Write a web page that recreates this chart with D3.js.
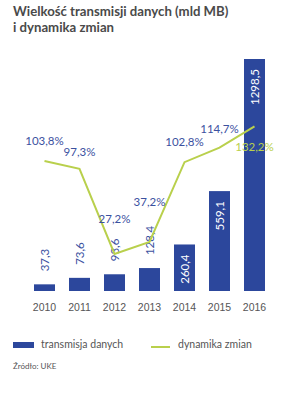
<!DOCTYPE html>
<html>
<head>
<meta charset="utf-8">
<script src="https://cdn.jsdelivr.net/npm/d3@7"></script>
<style>
  body { margin: 0; background: #fff; }
  svg { display: block; font-family: Lato, 'Open Sans', sans-serif; }
  .title { font-weight: 700; fill: #4a4a4a; font-size: 13.2px; }
  .axis text { fill: #555; font-size: 10.5px; }
  .legend text { fill: #555; font-size: 10.5px; }
  .source { fill: #555; font-size: 8px; }
</style>
</head>
<body>
<svg width="281" height="394"></svg>
<script>
const years = ['2010', '2011', '2012', '2013', '2014', '2015', '2016']
const transfer = [37.3, 73.6, 93.6, 128.4, 260.4, 559.1, 1298.5]
const dynamics = [103.8, 97.3, 27.2, 37.2, 102.8, 114.7, 132.2]
const seriesNames = ['transmisja danych', 'dynamika zmian']
const titleLines = ['Wielkość transmisji danych (mld MB)', 'i dynamika zmian']

// label placement (px offsets from the line point, negative = above)
const pctOffset = [-16, -13, -31, -36, -16, -15, 25]

const blue = '#2c479c'
const green = '#b9d04c'
const textBlue = '#3b519f'
const fmt = v => d3.format('.1f')(v).replace('.', ',')

const svg = d3.select('svg')

// Title
svg.selectAll('.title')
  .data(titleLines)
  .join('text')
  .classed('title', true)
  .attr('x', 13)
  .attr('y', (d, i) => 16 + i * 15.5)
  .text(d => d)

const xScale = d3.scaleBand(years, [27, 272])
  .paddingInner(0.4)
  .paddingOuter(0.2)
const cx = d => xScale(d) + xScale.bandwidth() / 2

const yScale = d3.scaleLinear([0, 1298.5], [291, 59])
const pScale = d3.scaleLinear([0, 140], [287, 117])

const rows = years.map((y, i) => ({ year: y, value: transfer[i], pct: dynamics[i], off: pctOffset[i] }))

// Bars
svg.append('g')
  .selectAll('rect')
  .data(rows)
  .join('rect')
  .attr('x', d => xScale(d.year))
  .attr('y', d => yScale(d.value))
  .attr('width', xScale.bandwidth())
  .attr('height', d => yScale(0) - yScale(d.value))
  .attr('fill', blue)

// Bar value labels (rotated)
const inside = d => yScale(0) - yScale(d.value) > 40
svg.append('g')
  .selectAll('text')
  .data(rows)
  .join('text')
  .attr('transform', d => {
    const y = inside(d) ? yScale(d.value) + 10 : yScale(d.value) - 13
    return `translate(${ cx(d.year) + 4 },${ y }) rotate(-90)`
  })
  .attr('text-anchor', d => inside(d) ? 'end' : 'start')
  .attr('fill', d => inside(d) ? '#fff' : textBlue)
  .style('font-size', '11.5px')
  .text(d => fmt(d.value))

// Line
const line = d3.line()
  .x(d => cx(d.year))
  .y(d => pScale(d.pct))
svg.append('path')
  .datum(rows)
  .attr('d', line)
  .attr('fill', 'none')
  .attr('stroke', green)
  .attr('stroke-width', 2)

svg.append('g')
  .selectAll('text')
  .data(rows)
  .join('text')
  .attr('x', d => cx(d.year))
  .attr('y', d => pScale(d.pct) + d.off)
  .attr('text-anchor', 'middle')
  .attr('fill', (d, i) => i === rows.length - 1 ? green : textBlue)
  .style('font-size', '11.5px')
  .text(d => fmt(d.pct) + '%')

// X axis
const xAxis = d3.axisBottom(xScale).tickSize(0).tickPadding(0)
const xAxisEl = svg.append('g')
  .classed('axis', true)
  .attr('transform', 'translate(0,304)')
  .call(xAxis)
xAxisEl.select('.domain').remove()
xAxisEl.selectAll('text').attr('dy', '0.71em').attr('font-family', null)

// Legend
const legend = svg.append('g').classed('legend', true)
legend.append('rect')
  .attr('x', 13).attr('y', 342).attr('width', 21).attr('height', 6)
  .attr('fill', blue)
legend.append('text').attr('x', 41).attr('y', 348).text(seriesNames[0])
legend.append('line')
  .attr('x1', 151).attr('x2', 170).attr('y1', 347).attr('y2', 347)
  .attr('stroke', green).attr('stroke-width', 2)
legend.append('text').attr('x', 178).attr('y', 348).text(seriesNames[1])

svg.append('text').classed('source', true)
  .attr('x', 13).attr('y', 369)
  .text('Źródło: UKE')
</script>
</body>
</html>
